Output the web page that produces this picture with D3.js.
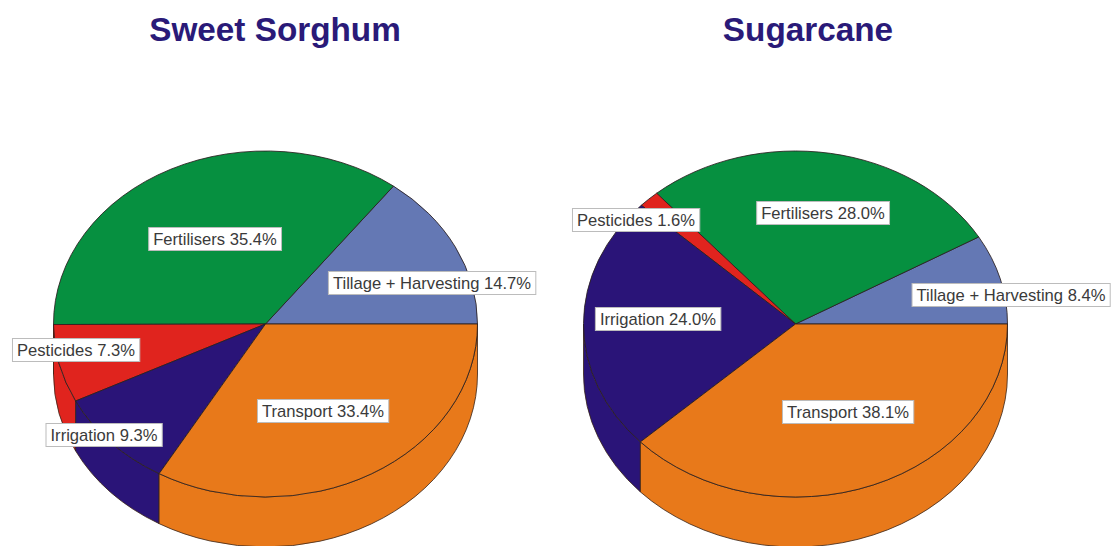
<!DOCTYPE html>
<html>
<head>
<meta charset="utf-8">
<script src="https://cdn.jsdelivr.net/npm/d3@7/dist/d3.min.js"></script>
<style>
html,body{margin:0;padding:0;background:#fff;}
svg{display:block;}
text{font-family:"Liberation Sans",Arial,sans-serif;}
</style>
</head>
<body>
<svg id="chart" width="1114" height="546"></svg>
<script>
const categories = ["Tillage + Harvesting","Fertilisers","Pesticides","Irrigation","Transport"];
const sorghumValues = [14.7,35.4,7.3,9.3,33.4];
const sugarcaneValues = [8.4,28.0,1.6,24.0,38.1];
const chartTitles = ["Sweet Sorghum","Sugarcane"];
const colours = ["#6478b4","#069040","#e0241e","#2a1478","#e8791a"];

const layout = [
  {cx:265.5, title:[275,41], labels:[[432,283],[215,239],[76,350],[104,435],[323,411]]},
  {cx:795.5, title:[808,41], labels:[[1011,295],[823,213],[636,220],[658,319],[848,412]]}
];
const cy = 324, rx = 212, ry = 173, depth = 50;
const svg = d3.select("#chart");
const pie = d3.pie().sort(null).startAngle(Math.PI/2).endAngle(Math.PI/2 - 2*Math.PI);

function drawPie(values, title, lay){
  const g = svg.append("g");
  const x = d3.scaleLinear().domain([-1,1]).range([lay.cx-rx, lay.cx+rx]);
  const y = d3.scaleLinear().domain([-1,1]).range([cy-ry, cy+ry]);
  const arcs = pie(values);

  // side wall: only the part of each slice that faces the viewer
  const lo = -3*Math.PI/2, hi = -Math.PI/2;
  arcs.forEach((a,i)=>{
    const a0 = Math.min(a.startAngle, hi), a1 = Math.max(a.endAngle, lo);
    if (a0 <= a1) return;
    const p0 = [x(Math.sin(a0)), y(-Math.cos(a0))];
    const p1 = [x(Math.sin(a1)), y(-Math.cos(a1))];
    const d = `M${p0[0]},${p0[1]}A${rx},${ry} 0 0 0 ${p1[0]},${p1[1]}`+
              `L${p1[0]},${p1[1]+depth}A${rx},${ry} 0 0 1 ${p0[0]},${p0[1]+depth}Z`;
    g.append("path").attr("d",d).attr("fill",colours[i])
      .attr("stroke","#3a2418").attr("stroke-opacity",0.8).attr("stroke-width",1).attr("stroke-linejoin","round");
  });

  // top surface
  const arc = d3.arc().innerRadius(0).outerRadius(rx);
  g.append("g").attr("transform",`translate(${lay.cx},${cy}) scale(1,${ry/rx})`)
    .selectAll("path").data(arcs).join("path")
    .attr("d",arc)
    .attr("fill",(d,i)=>colours[i])
    .attr("stroke","#2a2020").attr("stroke-opacity",0.85).attr("stroke-width",1)
    .attr("stroke-linejoin","round")
    .attr("vector-effect","non-scaling-stroke");

  // labels
  categories.forEach((c,i)=>{
    const lg = g.append("g");
    const t = lg.append("text")
      .attr("x",lay.labels[i][0]).attr("y",lay.labels[i][1]+6)
      .attr("text-anchor","middle").attr("font-size",16.6).attr("fill","#3a3a3a")
      .text(`${c} ${values[i].toFixed(1)}%`);
    const b = t.node().getBBox();
    lg.insert("rect","text")
      .attr("x",b.x-4.5).attr("y",lay.labels[i][1]-11.5)
      .attr("width",b.width+9).attr("height",23)
      .attr("fill","#fff").attr("stroke","#bcbcbc").attr("stroke-width",1);
  });

  svg.append("text").attr("x",lay.title[0]).attr("y",lay.title[1])
    .attr("text-anchor","middle").attr("font-size",33.3).attr("font-weight","bold")
    .attr("fill","#2a1a78").text(title);
}
drawPie(sorghumValues, chartTitles[0], layout[0]);
drawPie(sugarcaneValues, chartTitles[1], layout[1]);
</script>
</body>
</html>
